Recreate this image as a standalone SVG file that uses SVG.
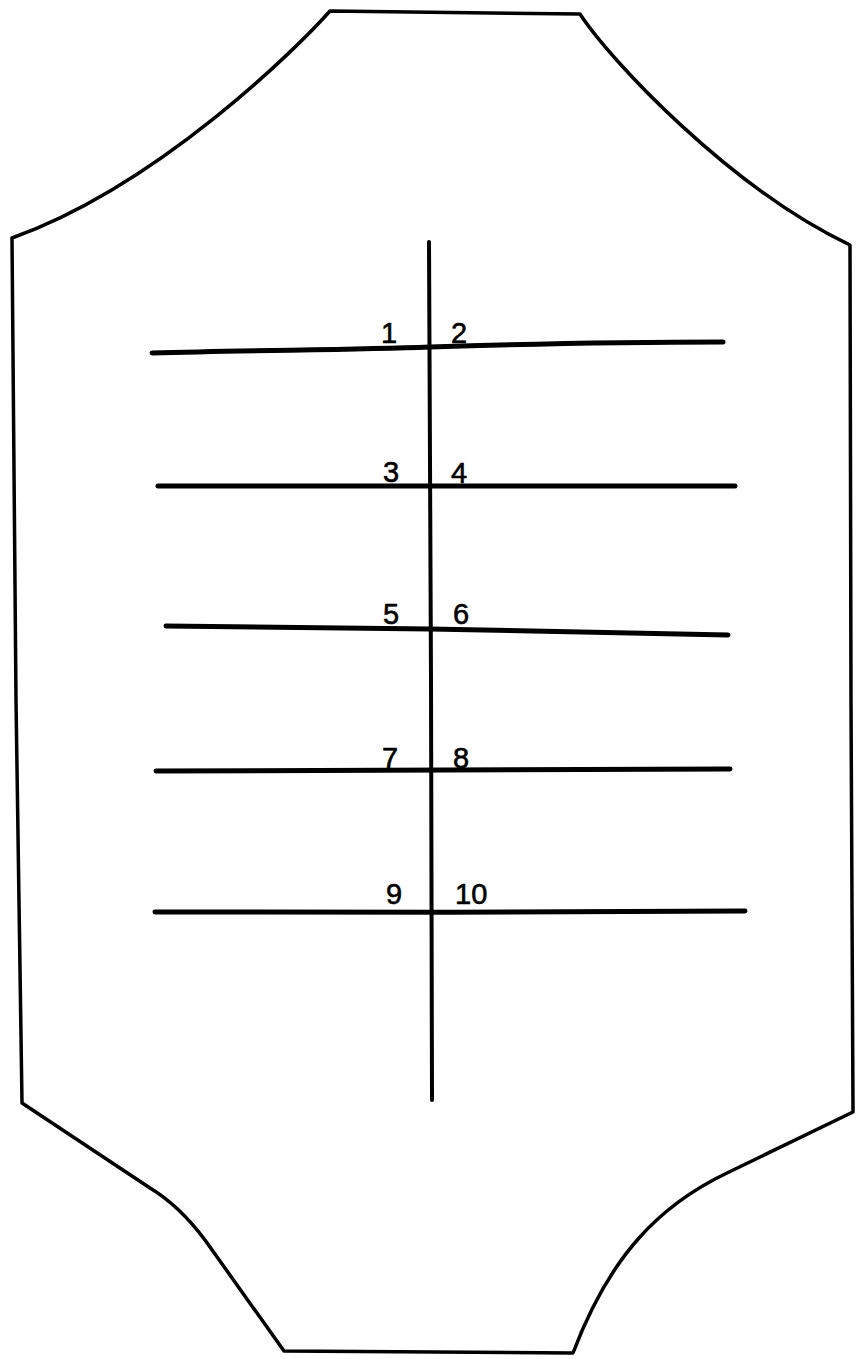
<svg xmlns="http://www.w3.org/2000/svg" width="858" height="1359" viewBox="0 0 858 1359">
<style>
.outline{fill:none;stroke:#000;stroke-width:3.5;stroke-linejoin:round;stroke-linecap:round}
.bar{fill:none;stroke:#000;stroke-width:5;stroke-linecap:round}
.axis{fill:none;stroke:#000;stroke-width:4;stroke-linecap:round}
.lbl{font-family:"Liberation Sans",Arial,sans-serif;font-size:29px;fill:#000;stroke:#000;stroke-width:0.6}
</style>
<rect width="858" height="1359" fill="#fff"/>
<g id="outline">
<path class="outline" d="M330,11 L580,14 C610,60 730,188 850,245 L851,700 L853,1112 L727,1173 C660,1205 610,1255 573,1353 L284,1351 L205,1240 C190,1220 170,1200 150,1188 L22,1103 L16,700 L12,238 C160,185 300,45 330,11 Z"/>
</g>
<g id="connectors">
<path class="axis" d="M429,242 L431,680 L432,1100"/>
<path class="bar" d="M152,353 C260,350 350,350 430,347 C560,343 640,342 723,342"/>
<path class="bar" d="M158,486 L735,486"/>
<path class="bar" d="M166,626 C260,627 350,628 430,629 C560,632 650,634 728,635"/>
<path class="bar" d="M156,771 C300,770 500,770 730,769"/>
<path class="bar" d="M155,912 C350,913 550,912 745,911"/>
</g>
<g id="labels">
<text class="lbl" x="381" y="343">1</text>
<text class="lbl" x="451" y="343">2</text>
<text class="lbl" x="383" y="482">3</text>
<text class="lbl" x="451" y="483">4</text>
<text class="lbl" x="383" y="624">5</text>
<text class="lbl" x="453" y="624">6</text>
<text class="lbl" x="382" y="768">7</text>
<text class="lbl" x="453" y="768">8</text>
<text class="lbl" x="386" y="904">9</text>
<text class="lbl" x="455" y="904">10</text>
</g>
</svg>
